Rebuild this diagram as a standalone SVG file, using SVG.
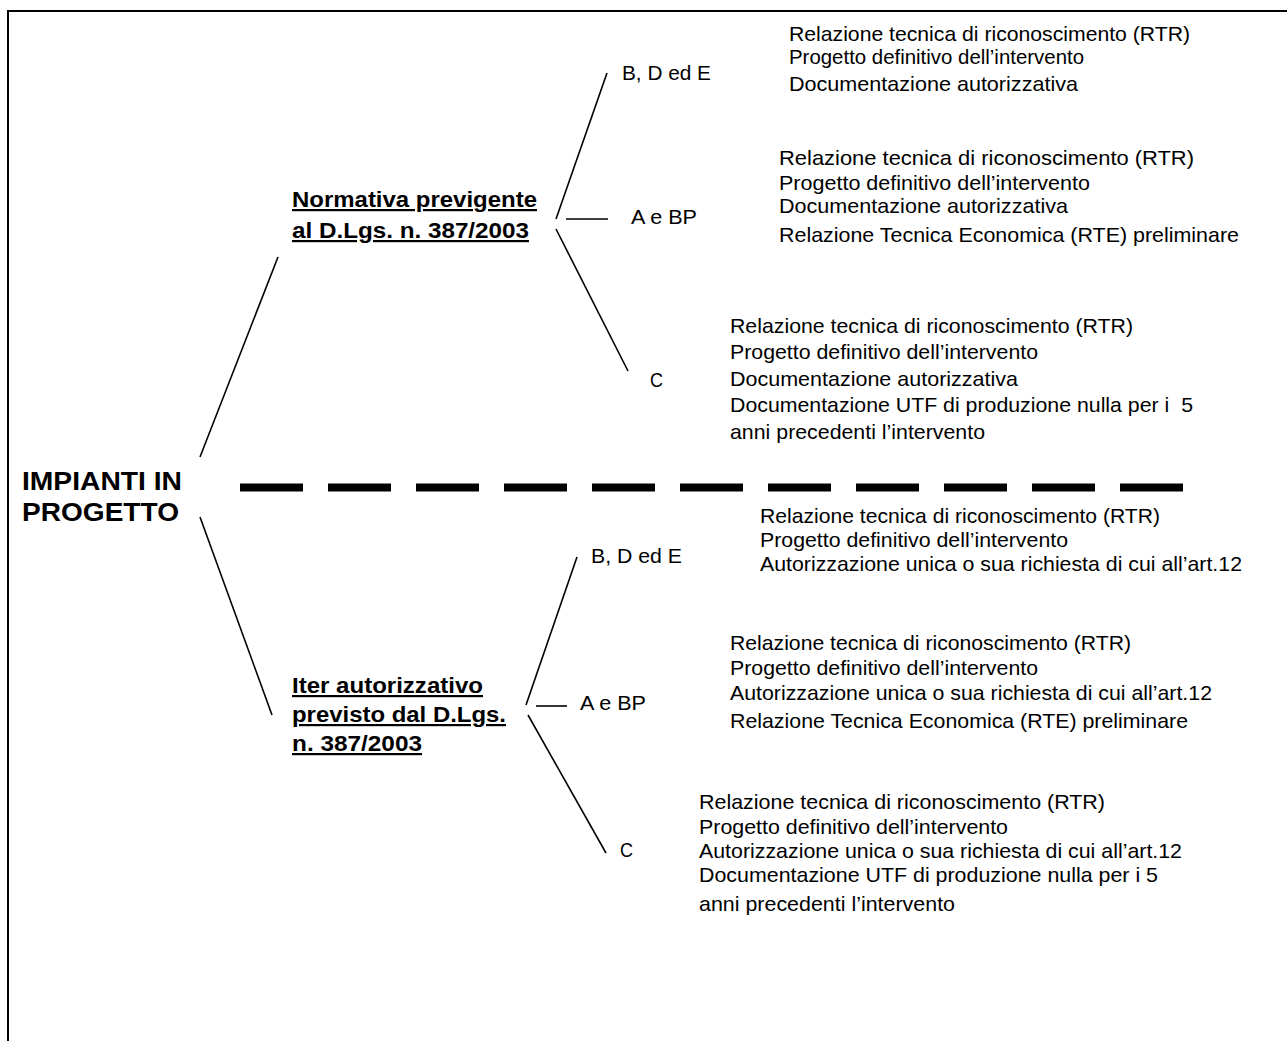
<svg xmlns="http://www.w3.org/2000/svg" width="1287" height="1041" viewBox="0 0 1287 1041">
<style>
.t{font-family:"Liberation Sans",Arial,sans-serif;font-size:21px;fill:#000}
.b{font-family:"Liberation Sans",Arial,sans-serif;font-size:22px;font-weight:bold;fill:#000;text-decoration:underline}
.h{font-family:"Liberation Sans",Arial,sans-serif;font-size:26px;font-weight:bold;fill:#000}
.c{stroke:#000;stroke-width:1.6;fill:none}
</style>
<rect width="1287" height="1041" fill="#fff"/>
<path d="M8,1041 V11 H1287" fill="none" stroke="#000" stroke-width="2"/>
<g id="connectors">
<line class="c" x1="278" y1="257" x2="200" y2="457"/>
<line class="c" x1="200" y1="517" x2="272" y2="715"/>
<line class="c" x1="607" y1="73" x2="556" y2="219"/>
<line class="c" x1="566" y1="219" x2="608" y2="219"/>
<line class="c" x1="556" y1="229" x2="628" y2="371"/>
<line class="c" x1="577" y1="557" x2="526" y2="705"/>
<line class="c" x1="536" y1="706" x2="567" y2="706"/>
<line class="c" x1="528" y1="715" x2="606" y2="853"/>
<line x1="240" y1="487.5" x2="1184" y2="487.5" stroke="#000" stroke-width="8" stroke-dasharray="63 25"/>
</g>
<g id="root">
<text class="h" x="22" y="490" textLength="160" lengthAdjust="spacingAndGlyphs">IMPIANTI IN</text>
<text class="h" x="22" y="521" textLength="157" lengthAdjust="spacingAndGlyphs">PROGETTO</text>
</g>
<g id="normativa">
<text class="b" x="292" y="207" textLength="245" lengthAdjust="spacingAndGlyphs">Normativa previgente</text>
<text class="b" x="292" y="238" textLength="237" lengthAdjust="spacingAndGlyphs">al D.Lgs. n. 387/2003</text>
</g>
<g id="iter">
<text class="b" x="292" y="693" textLength="191" lengthAdjust="spacingAndGlyphs">Iter autorizzativo</text>
<text class="b" x="292" y="722" textLength="214" lengthAdjust="spacingAndGlyphs">previsto dal D.Lgs.</text>
<text class="b" x="292" y="751" textLength="130" lengthAdjust="spacingAndGlyphs">n. 387/2003</text>
</g>
<g id="n1-bde">
<text class="t" x="622" y="80" textLength="89" lengthAdjust="spacingAndGlyphs">B, D ed E</text>
</g>
<g id="n1-abp">
<text class="t" x="631" y="224" textLength="66" lengthAdjust="spacingAndGlyphs">A e BP</text>
</g>
<g id="n1-c">
<text class="t" x="650" y="387" textLength="13" lengthAdjust="spacingAndGlyphs">C</text>
</g>
<g id="n2-bde">
<text class="t" x="591" y="563" textLength="91" lengthAdjust="spacingAndGlyphs">B, D ed E</text>
</g>
<g id="n2-abp">
<text class="t" x="580" y="710" textLength="66" lengthAdjust="spacingAndGlyphs">A e BP</text>
</g>
<g id="n2-c">
<text class="t" x="620" y="857" textLength="13" lengthAdjust="spacingAndGlyphs">C</text>
</g>
<g id="doc1-bde">
<text class="t" x="789" y="41" textLength="401" lengthAdjust="spacingAndGlyphs">Relazione tecnica di riconoscimento (RTR)</text>
<text class="t" x="789" y="64" textLength="295" lengthAdjust="spacingAndGlyphs">Progetto definitivo dell’intervento</text>
<text class="t" x="789" y="91" textLength="289" lengthAdjust="spacingAndGlyphs">Documentazione autorizzativa</text>
</g>
<g id="doc1-abp">
<text class="t" x="779" y="165" textLength="415" lengthAdjust="spacingAndGlyphs">Relazione tecnica di riconoscimento (RTR)</text>
<text class="t" x="779" y="190" textLength="311" lengthAdjust="spacingAndGlyphs">Progetto definitivo dell’intervento</text>
<text class="t" x="779" y="213" textLength="289" lengthAdjust="spacingAndGlyphs">Documentazione autorizzativa</text>
<text class="t" x="779" y="242" textLength="460" lengthAdjust="spacingAndGlyphs">Relazione Tecnica Economica (RTE) preliminare</text>
</g>
<g id="doc1-c">
<text class="t" x="730" y="333" textLength="403" lengthAdjust="spacingAndGlyphs">Relazione tecnica di riconoscimento (RTR)</text>
<text class="t" x="730" y="359" textLength="308" lengthAdjust="spacingAndGlyphs">Progetto definitivo dell’intervento</text>
<text class="t" x="730" y="386" textLength="288" lengthAdjust="spacingAndGlyphs">Documentazione autorizzativa</text>
<text class="t" x="730" y="412" textLength="463" lengthAdjust="spacingAndGlyphs" xml:space="preserve">Documentazione UTF di produzione nulla per i  5</text>
<text class="t" x="730" y="439" textLength="255" lengthAdjust="spacingAndGlyphs">anni precedenti l’intervento</text>
</g>
<g id="doc2-bde">
<text class="t" x="760" y="523" textLength="400" lengthAdjust="spacingAndGlyphs">Relazione tecnica di riconoscimento (RTR)</text>
<text class="t" x="760" y="547" textLength="308" lengthAdjust="spacingAndGlyphs">Progetto definitivo dell’intervento</text>
<text class="t" x="760" y="571" textLength="482" lengthAdjust="spacingAndGlyphs">Autorizzazione unica o sua richiesta di cui all’art.12</text>
</g>
<g id="doc2-abp">
<text class="t" x="730" y="650" textLength="401" lengthAdjust="spacingAndGlyphs">Relazione tecnica di riconoscimento (RTR)</text>
<text class="t" x="730" y="675" textLength="308" lengthAdjust="spacingAndGlyphs">Progetto definitivo dell’intervento</text>
<text class="t" x="730" y="700" textLength="482" lengthAdjust="spacingAndGlyphs">Autorizzazione unica o sua richiesta di cui all’art.12</text>
<text class="t" x="730" y="728" textLength="458" lengthAdjust="spacingAndGlyphs">Relazione Tecnica Economica (RTE) preliminare</text>
</g>
<g id="doc2-c">
<text class="t" x="699" y="809" textLength="406" lengthAdjust="spacingAndGlyphs">Relazione tecnica di riconoscimento (RTR)</text>
<text class="t" x="699" y="834" textLength="309" lengthAdjust="spacingAndGlyphs">Progetto definitivo dell’intervento</text>
<text class="t" x="699" y="858" textLength="483" lengthAdjust="spacingAndGlyphs">Autorizzazione unica o sua richiesta di cui all’art.12</text>
<text class="t" x="699" y="882" textLength="459" lengthAdjust="spacingAndGlyphs">Documentazione UTF di produzione nulla per i 5</text>
<text class="t" x="699" y="911" textLength="256" lengthAdjust="spacingAndGlyphs">anni precedenti l’intervento</text>
</g>
</svg>
